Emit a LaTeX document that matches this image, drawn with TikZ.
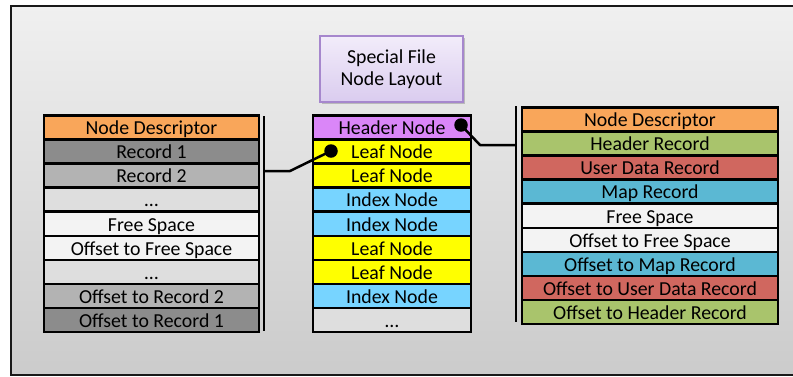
\documentclass[tikz,border=0pt]{standalone}
\usepackage{fontspec}
\setmainfont{Carlito}
\usetikzlibrary{shadows}
\definecolor{cOrange}{HTML}{F9A65A}
\definecolor{cGrayA}{HTML}{8C8C8C}
\definecolor{cGrayB}{HTML}{B3B3B3}
\definecolor{cGrayC}{HTML}{DEDEDE}
\definecolor{cGrayD}{HTML}{F3F3F3}
\definecolor{cPurple}{HTML}{DA86F8}
\definecolor{cYellow}{HTML}{FFFF00}
\definecolor{cIndex}{HTML}{77D4FF}
\definecolor{cGreen}{HTML}{A9C46C}
\definecolor{cRed}{HTML}{D0675F}
\definecolor{cBlue}{HTML}{5BB8D3}
\definecolor{cTitleTop}{HTML}{F2ECFA}
\definecolor{cTitleBot}{HTML}{DACCEF}
\definecolor{cTitleLine}{HTML}{A687CD}
\definecolor{cBgTop}{HTML}{F0F0F0}
\definecolor{cBgBot}{HTML}{CBCBCB}
\begin{document}
\begin{tikzpicture}[x=1pt,y=-1pt,
  font=\fontsize{19.8}{23}\selectfont,
  row/.style={draw=black, line width=2.5pt, minimum height=24.1pt, inner sep=0pt,
    text height=19.4pt, text depth=4.7pt, anchor=north},
  leftrow/.style={row, minimum width=215pt},
  midrow/.style={row, minimum width=158pt},
  rightrow/.style={row, minimum width=256pt},
  bracket/.style={draw=black, line width=2.8pt},
  conn/.style={draw=black, line width=2.5pt, line join=round},
  dot/.style={circle, fill=black, inner sep=0pt, minimum size=13.5pt},
  titlebox/.style={draw=cTitleLine, line width=1.6pt, top color=cTitleTop, bottom color=cTitleBot,
    minimum width=143pt, minimum height=66pt, align=center, inner sep=0pt,
    drop shadow={shadow xshift=2pt, shadow yshift=-2pt, opacity=0.35, fill=black!60}},
]
\useasboundingbox (0,0) rectangle (793,376);
% background
\shade[top color=cBgTop, bottom color=cBgBot] (11,5.5) rectangle (793,375);
\draw[line width=2pt, black!90] (793,5.5) -- (11,5.5) -- (11,375) -- (793,375);

% title
\node[titlebox] (title) at (391.5,69) {Special File\\[-1pt]Node Layout};

% left stack
\foreach \t/\c [count=\i] in {Node Descriptor/cOrange, Record 1/cGrayA, Record 2/cGrayB,
  \dots/cGrayC, Free Space/cGrayD, Offset to Free Space/cGrayD, \dots/cGrayC,
  Offset to Record 2/cGrayB, Offset to Record 1/cGrayA}
  \node[leftrow, fill=\c] (L\i) at (151.5,{114+(\i-1)*24.1}) {\t};

% middle stack
\foreach \t/\c [count=\i] in {Header Node/cPurple, Leaf Node/cYellow, Leaf Node/cYellow,
  Index Node/cIndex, Index Node/cIndex, Leaf Node/cYellow, Leaf Node/cYellow,
  Index Node/cIndex, \dots/cGrayC}
  \node[midrow, fill=\c] (M\i) at (392,{114+(\i-1)*24.1}) {\t};

% right stack
\foreach \t/\c [count=\i] in {Node Descriptor/cOrange, Header Record/cGreen, User Data Record/cRed,
  Map Record/cBlue, Free Space/cGrayD, Offset to Free Space/cGrayD, Offset to Map Record/cBlue,
  Offset to User Data Record/cRed, Offset to Header Record/cGreen}
  \node[rightrow, fill=\c] (R\i) at (650,{106+(\i-1)*24.1}) {\t};

% brackets
\coordinate (blt) at (264,116);
\coordinate (blb) at (264,331);
\coordinate (blm) at (264,171);
\draw[bracket] (blt) -- (blb);
\coordinate (brt) at (516,106);
\coordinate (brb) at (516,322);
\coordinate (brm) at (516,145);
\draw[bracket] (brt) -- (brb);

% dots and connectors
\node[dot] (dL) at (331,151) {};
\node[dot] (dR) at (461,125) {};
\draw[conn] (blm) -- ++(26,0) -- (dL.center);
\draw[conn] (brm) -- ++(-36,0) -- (dR.center);
\end{tikzpicture}
\end{document}
